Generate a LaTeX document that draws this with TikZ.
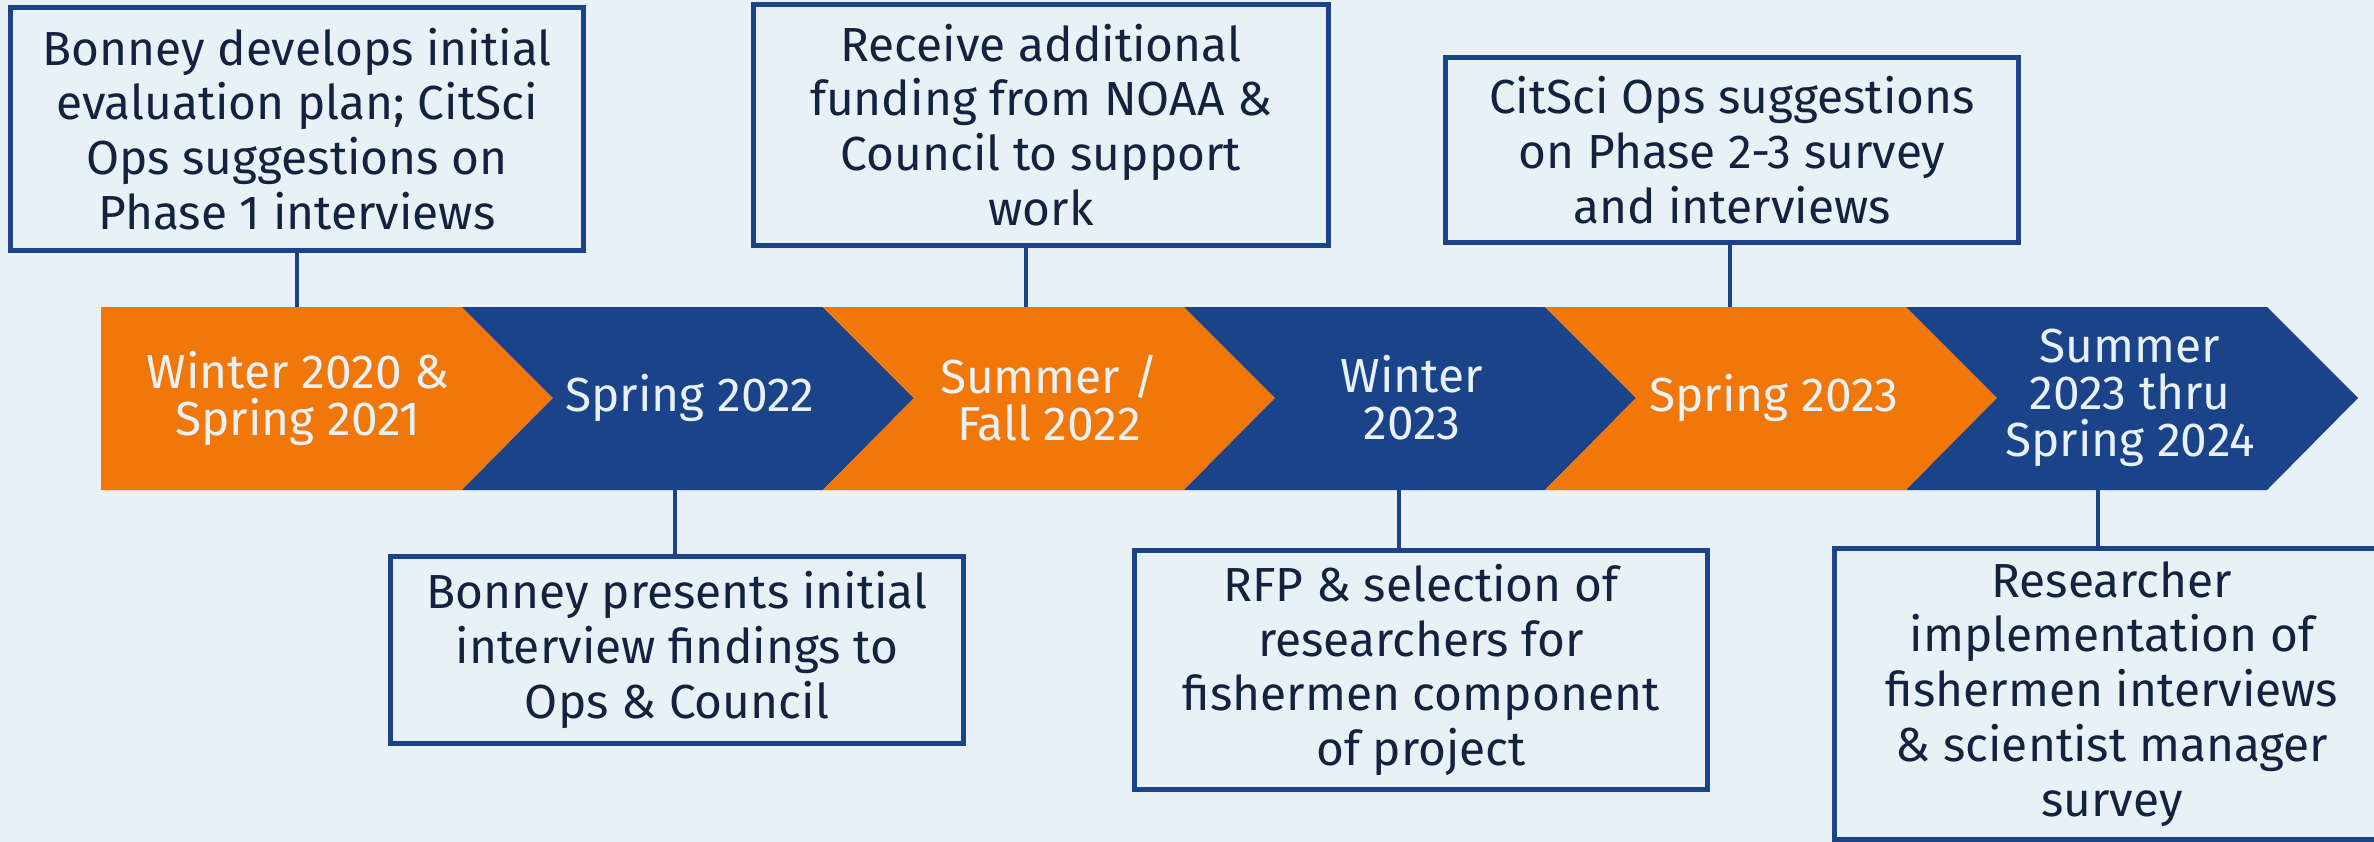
\documentclass[tikz,border=0pt]{standalone}
\usepackage{fontspec}
\setmainfont{Fira Sans}
\definecolor{amber}{HTML}{F27709}
\definecolor{navy}{HTML}{1A4389}
\definecolor{paper}{HTML}{E8F1F5}
\definecolor{ink}{HTML}{15223F}

\tikzset{
  note/.style={draw=navy, line width=1.4pt, fill=paper, text=ink, align=center,
    inner sep=0pt, font=\fontsize{13.6}{15.6}\selectfont},
  season/.style={text=paper, align=center, font=\fontsize{13.6}{13.4}\selectfont},
  stem/.style={navy, line width=1.2pt}
}

\begin{document}
\begin{tikzpicture}[x=0.01cm,y=-0.01cm]
    \fill[paper] (0,0) rectangle (2374,842);
    \useasboundingbox (0,0) rectangle (2374,842);
    \clip (0,0) rectangle (2374,842);

    % First chevron has a flat left end
    \fill[amber] (101,307) -- (462,307) -- (553,398) -- (462,490) -- (101,490) -- cycle;

    % The other chevrons
    \foreach \i/\col in {2/navy,3/amber,4/navy,5/amber,6/navy} {
        \pgfmathsetmacro{\xl}{462+(\i-2)*361}
        \fill[\col] (\xl,307) -- ++(361,0) -- ++(91,91) -- ++(-91,92) -- ++(-361,0) -- ++(91,-92) -- cycle;
      }

    % Season labels
    \node[season] (p1) at (298,398) {Winter 2020 \&\\Spring 2021};
    \node[season] (p2) at (690,398) {Spring 2022};
    \node[season] (p3) at (1049,398) {Summer /\\Fall 2022};
    \node[season] (p4) at (1412,398) {Winter\\2023};
    \node[season] (p5) at (1774,398) {Spring 2023};
    \node[season] (p6) at (2130,398) {Summer\\2023 thru\\Spring 2024};

    % Notes above the band
    \node[note, minimum width=5.72cm, minimum height=2.42cm] (n1) at (297,129)
      {Bonney develops initial\\evaluation plan; CitSci\\Ops suggestions on\\Phase 1 interviews};
    \node[note, minimum width=5.74cm, minimum height=2.40cm] (n2) at (1041,125)
      {Receive additional\\funding from NOAA \&\\Council to support\\work};
    \node[note, minimum width=5.72cm, minimum height=1.84cm] (n3) at (1732,150)
      {CitSci Ops suggestions\\on Phase 2-3 survey\\and interviews};

    % Notes below the band
    \node[note, minimum width=5.72cm, minimum height=1.86cm] (n4) at (677,650)
      {Bonney presents initial\\interview findings to\\Ops \& Council};
    \node[note, minimum width=5.73cm, minimum height=2.39cm] (n5) at (1421,670)
      {RFP \& selection of\\researchers for\\fishermen component\\of project};
    \node[note, minimum width=5.55cm, minimum height=2.91cm] (n6) at (2112,694)
      {Researcher\\implementation of\\fishermen interviews\\\& scientist manager\\survey};

    % Stems between notes and band
    \coordinate (t1) at (297,307);
    \coordinate (t2) at (1026,307);
    \coordinate (t3) at (1730,307);
    \coordinate (b4) at (675,490);
    \coordinate (b5) at (1399,490);
    \coordinate (b6) at (2098,490);

    \foreach \s/\n in {t1/n1,t2/n2,t3/n3}
    \draw[stem] (\s) -- (\s |- \n.south);
    \foreach \s/\n in {b4/n4,b5/n5,b6/n6}
    \draw[stem] (\s) -- (\s |- \n.north);
  \end{tikzpicture}
\end{document}
